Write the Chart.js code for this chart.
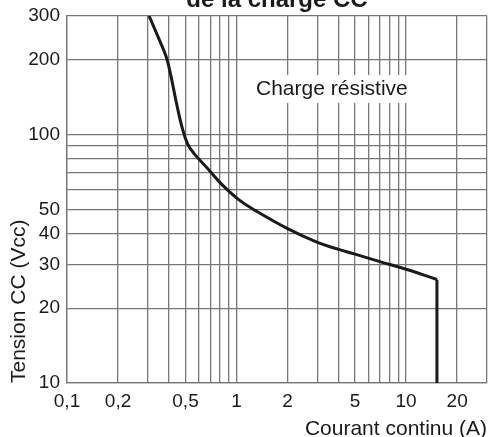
<!DOCTYPE html>
<html><head><meta charset="utf-8">
<script src="https://cdn.jsdelivr.net/npm/chart.js@4.4.0/dist/chart.umd.min.js"></script>
<style>
html,body{margin:0;padding:0;background:#fff;}
#wrap{position:relative;width:488px;height:437px;overflow:hidden;background:#fff;}
#c{position:absolute;left:0;top:-20px;width:500px;height:470px;}
</style></head><body>
<div id="wrap"><canvas id="c" width="500" height="470"></canvas></div>
<script>
// Data
const currentA = [0.305, 0.351, 0.385, 0.408, 0.44, 0.477, 0.514, 0.562, 0.689, 0.824, 1.03, 1.30, 2.0, 3.0, 4.0, 5.0, 7.0, 10.0, 15.2];
const voltageV = [300, 240, 205, 175, 136, 107, 91.8, 83.8, 71.9, 62.7, 54.7, 49.3, 41.8, 36.8, 34.5, 33.0, 30.8, 28.7, 26.1];
const cutoffCurrentA = [15.2, 15.2];
const cutoffVoltageV = [26.1, 10];

const xTickValues = [0.1, 0.2, 0.3, 0.4, 0.5, 0.6, 0.7, 0.8, 0.9, 1, 2, 3, 4, 5, 6, 7, 8, 9, 10, 20, 30];
const xTickLabels = ['0,1', '0,2', '', '', '0,5', '', '', '', '', '1', '2', '', '', '5', '', '', '', '', '10', '20', ''];
const yTickValues = [10, 20, 30, 40, 50, 60, 70, 80, 90, 100, 200, 300];
const yTickLabels = ['10', '20', '30', '40', '50', '', '', '', '', '100', '200', '300'];

const chartTitle = 'de la charge CC';
const xTitle = 'Courant continu (A)';
const yTitle = 'Tension CC (Vcc)';
const noteText = 'Charge résistive';
const noteX = 3.65;
const noteY = 152.5;

const gridColor = '#777777';
const inkColor = '#1a1a1a';
const tickFont = {family: "'Liberation Sans Narrow', 'Liberation Sans', Arial, sans-serif", size: 19};
const labelFont = {family: "'Liberation Sans', Arial, sans-serif", size: 21};

const notePlugin = {
  id: 'note',
  beforeDatasetsDraw(chart) {
    const ctx = chart.ctx;
    const x = chart.scales.x.getPixelForValue(noteX);
    const y = chart.scales.y.getPixelForValue(noteY);
    ctx.save();
    ctx.font = "21px 'Liberation Sans', Arial, sans-serif";
    const w = ctx.measureText(noteText).width;
    ctx.fillStyle = '#ffffff';
    ctx.fillRect(x - w / 2 - 5, y - 14, w + 10, 28);
    ctx.fillStyle = inkColor;
    ctx.textAlign = 'center';
    ctx.textBaseline = 'middle';
    ctx.fillText(noteText, x, y);
    ctx.restore();
  }
};

new Chart(document.getElementById('c'), {
  type: 'scatter',
  data: {
    datasets: [
      {
        data: currentA.map((v, i) => ({x: v, y: voltageV[i]})),
        showLine: true,
        borderColor: inkColor,
        borderWidth: 3,
        pointRadius: 0,
        tension: 0.4
      },
      {
        data: cutoffCurrentA.map((v, i) => ({x: v, y: cutoffVoltageV[i]})),
        showLine: true,
        borderColor: inkColor,
        borderWidth: 3,
        pointRadius: 0,
        tension: 0
      }
    ]
  },
  options: {
    responsive: false,
    animation: false,
    layout: {padding: {left: 0, right: 13, top: 0, bottom: 0}},
    plugins: {
      legend: {display: false},
      tooltip: {enabled: false},
      title: {
        display: true,
        text: chartTitle,
        fullSize: false,
        color: inkColor,
        font: {family: "'Liberation Sans', Arial, sans-serif", size: 24, weight: 'bold'},
        padding: {top: 6, bottom: 1.2}
      }
    },
    scales: {
      x: {
        type: 'logarithmic',
        min: 0.1,
        max: 30,
        afterBuildTicks(scale) { scale.ticks = xTickValues.map(v => ({value: v})); },
        afterFit(scale) { scale.height = 67; },
        grid: {color: gridColor, lineWidth: 1.3, drawTicks: false},
        border: {display: true, color: gridColor, width: 1.3},
        ticks: {
          autoSkip: false, maxRotation: 0, minRotation: 0, padding: 7,
          color: inkColor, font: tickFont,
          callback: (v, i) => xTickLabels[i]
        },
        title: {display: true, text: xTitle, align: 'end', color: inkColor, font: labelFont, padding: {top: 0, bottom: 8}}
      },
      y: {
        type: 'logarithmic',
        min: 10,
        max: 300,
        afterBuildTicks(scale) { scale.ticks = yTickValues.map(v => ({value: v})); },
        afterFit(scale) { scale.width = 67; },
        grid: {color: gridColor, lineWidth: 1.3, drawTicks: false},
        border: {display: true, color: gridColor, width: 1.3},
        ticks: {
          autoSkip: false, padding: 7,
          color: inkColor, font: tickFont,
          callback: (v, i) => yTickLabels[i]
        },
        title: {display: true, text: yTitle, align: 'start', color: inkColor, font: labelFont, padding: {top: 7, bottom: 0}}
      }
    }
  },
  plugins: [notePlugin]
});
</script>
</body></html>
